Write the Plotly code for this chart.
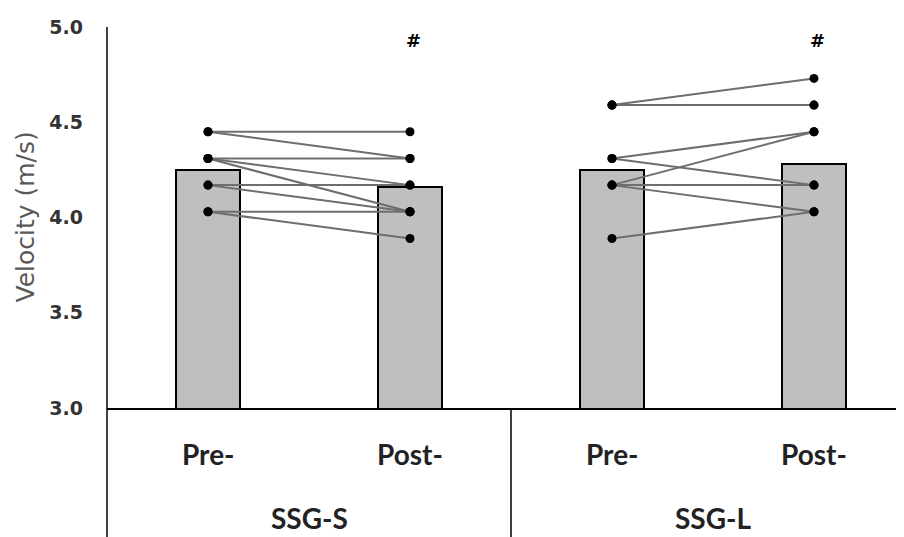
import plotly.graph_objects as go

# ---- data ----
conditions = ["Pre-", "Post-", "Pre-", "Post-"]
groups = ["SSG-S", "SSG-L"]
bar_means = [4.25, 4.16, 4.25, 4.28]
sig_labels = ["", "#", "", "#"]

# individual subjects (paired pre -> post)
ssgs_pre = [4.45, 4.45, 4.31, 4.31, 4.31, 4.17, 4.17, 4.03, 4.03]
ssgs_post = [4.45, 4.31, 4.31, 4.17, 4.03, 4.17, 4.03, 4.03, 3.89]
ssgl_pre = [4.59, 4.59, 4.59, 4.31, 4.31, 4.17, 4.17, 4.17, 3.89]
ssgl_post = [4.73, 4.59, 4.59, 4.45, 4.17, 4.45, 4.17, 4.03, 4.03]

y_ticks = [3.0, 3.5, 4.0, 4.5, 5.0]

# ---- figure ----
# the page body has an 8px margin, so the figure is drawn 8px in from the corner
OFF = 8
W, H = 904 - OFF, 537 - OFF
ML, MR, MT, MB = 107 - OFF, 0, 27 - OFF, 129
plot_w = W - ML - MR
plot_h = H - MT - MB
slot_px = 202.0
xpos = [0.5, 1.5, 2.5, 3.5]
axis_bottom = OFF + MT + plot_h  # window pixel of the 3.0 line

fig = go.Figure()
fig.add_trace(go.Bar(
    x=xpos, y=bar_means, width=0.317,
    marker=dict(color="#bfbfbf", line=dict(color="#000000", width=2)),
    showlegend=False, hoverinfo="skip",
))

def add_pairs(pre, post, x0, x1):
    for a, b in zip(pre, post):
        fig.add_trace(go.Scatter(
            x=[x0, x1], y=[a, b], mode="lines",
            line=dict(color="#6e6e6e", width=2),
            showlegend=False, hoverinfo="skip",
        ))

add_pairs(ssgs_pre, ssgs_post, xpos[0], xpos[1])
add_pairs(ssgl_pre, ssgl_post, xpos[2], xpos[3])

# markers on top
mx = [xpos[0]] * len(ssgs_pre) + [xpos[1]] * len(ssgs_post) + \
     [xpos[2]] * len(ssgl_pre) + [xpos[3]] * len(ssgl_post)
my = ssgs_pre + ssgs_post + ssgl_pre + ssgl_post
fig.add_trace(go.Scatter(
    x=mx, y=my, mode="markers",
    marker=dict(color="#000000", size=9),
    showlegend=False, hoverinfo="skip",
))

cat_font = dict(family="Lato, 'Open Sans', sans-serif", size=28, color="#222222",
                weight="bold")
annotations = []
for xv, lab in zip(xpos, conditions):
    annotations.append(dict(
        x=xv, y=-(454 - axis_bottom) / plot_h, xref="x", yref="paper",
        text=lab, showarrow=False, font=cat_font,
        xanchor="center", yanchor="middle",
    ))
for i, g in enumerate(groups):
    annotations.append(dict(
        x=1.0 + 2 * i, y=-(518 - axis_bottom) / plot_h, xref="x", yref="paper",
        text=g, showarrow=False, font=cat_font,
        xanchor="center", yanchor="middle",
    ))
for xv, s in zip(xpos, sig_labels):
    if s:
        annotations.append(dict(
            x=xv, y=4.93, xref="x", yref="y",
            text=s, showarrow=False,
            font=dict(family="DejaVu Sans", size=18, color="#000000", weight="bold"),
            xanchor="center", yanchor="middle", xshift=3,
        ))
annotations.append(dict(
    x=-(ML + OFF - 25) / plot_w, y=0.5, xref="paper", yref="paper",
    text="Velocity (m/s)", textangle=-90, showarrow=False,
    font=dict(family="DejaVu Sans", size=25, color="#595959"),
    xanchor="center", yanchor="middle",
))

bottom_paper = -MB / plot_h
shapes = [
    dict(type="line", xref="paper", yref="paper", x0=0, x1=0, y0=bottom_paper, y1=1,
         line=dict(color="#000000", width=1.5)),
    dict(type="line", xref="x", yref="paper", x0=2, x1=2, y0=bottom_paper, y1=0,
         line=dict(color="#000000", width=1.5)),
]

fig.update_layout(
    width=W, height=H,
    margin=dict(l=ML, r=MR, t=MT, b=MB, pad=0, autoexpand=False),
    plot_bgcolor="#ffffff", paper_bgcolor="#ffffff",
    bargap=0,
    xaxis=dict(range=[0, plot_w / slot_px], showgrid=False, zeroline=False,
               showline=True, linecolor="#000000", linewidth=1.5,
               showticklabels=False, ticks="", automargin=False),
    yaxis=dict(range=[3.0, 5.0], tickvals=y_ticks, tickformat=".1f",
               showgrid=False, zeroline=False, showline=False, ticks="",
               ticklen=0, ticklabelstandoff=23, automargin=False,
               tickfont=dict(family="DejaVu Sans", size=19, color="#333333",
                             weight="bold")),
    annotations=annotations,
    shapes=shapes,
)

fig.write_html("out.html")
